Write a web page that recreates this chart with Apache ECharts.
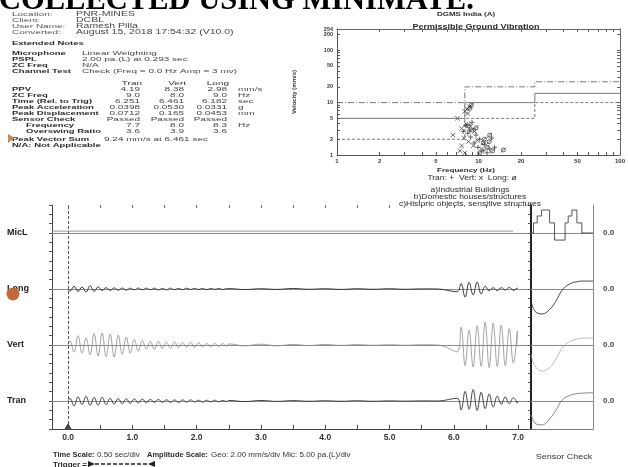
<!DOCTYPE html>
<html><head><meta charset="utf-8">
<script src="https://cdn.jsdelivr.net/npm/echarts@6/dist/echarts.min.js"></script>
<style>html,body{margin:0;padding:0;background:#fff}#c{width:628px;height:467px}</style>
</head><body><div id="c"></div>
<script>
// ================= DATA =================
// --- report header text ---
const titleText = 'COLLECTED USING MINIMATE.';
const infoLabels = ['Location:', 'Client:', 'User Name:', 'Converted:'];
const infoValues = ['PNR-MINES', 'DCBL', 'Ramesh Pilla', 'August 15, 2018 17:54:32 (V10.0)'];
const notesLabels = ['Microphone', 'PSPL', 'ZC Freq', 'Channel Test'];
const notesValues = ['Linear Weighting', '2.00 pa.(L) at 0.293 sec', 'N/A', 'Check (Freq = 0.0 Hz Amp = 3 mv)'];
const tableHeads = ['Tran', 'Vert', 'Long'];
const tableRows = ['PPV', 'ZC Freq', 'Time (Rel. to Trig)', 'Peak Acceleration', 'Peak Displacement', 'Sensor Check', 'Frequency', 'Overswing Ratio'];
const tranCol = ['4.19', '9.0', '6.251', '0.0398', '0.0712', 'Passed', '7.7', '3.6'];
const vertCol = ['8.38', '8.0', '6.461', '0.0530', '0.165', 'Passed', '8.0', '3.9'];
const longCol = ['2.98', '9.0', '6.182', '0.0331', '0.0453', 'Passed', '8.3', '3.6'];
const unitCol = ['mm/s', 'Hz', 'sec', 'g', 'mm', '', 'Hz', ''];

// --- frequency plot (log-log) ---
const freqTicks = [1, 2, 5, 10, 20, 50, 100];
const freqTickMarks = [1, 2, 3, 4, 5, 6, 7, 8, 9, 10, 20, 30, 40, 50, 60, 70, 80, 90, 100];
const velTicks = [1, 2, 5, 10, 20, 50, 100, 200];
const velTopTick = [254];
const velTickMarks = [1, 2, 3, 4, 5, 6, 7, 8, 9, 10, 20, 30, 40, 50, 60, 70, 80, 90, 100, 200, 254];
// limit lines [frequency Hz, velocity mm/s]
const industrialLimit = [[1, 10], [8, 10], [8, 20], [25, 20], [25, 25], [100, 25]];
const domesticLimit = [[1, 5], [8, 5], [8, 10], [25, 10], [25, 15], [100, 15]];
const historicLimit = [[1, 2], [8, 2], [8, 5], [25, 5], [25, 10], [100, 10]];
// scatter points [frequency Hz, velocity mm/s]
const tranPoints = [[9.0, 4.19], [8.1, 3.7], [8.6, 3.0], [9.6, 2.4], [10.2, 2.0], [8.8, 2.2], [11.0, 1.6], [12.0, 1.3], [10.8, 1.2], [9.3, 1.7], [8.4, 2.6], [11.5, 1.1], [13.0, 1.4], [12.4, 2.1], [7.8, 2.8], [9.9, 1.4]];
const vertPoints = [[8.6, 8.38], [8.3, 7.6], [8.0, 6.8], [8.4, 6.2], [7.1, 5.0], [6.6, 2.4], [7.6, 3.2], [8.2, 3.9], [8.8, 3.5], [9.4, 2.8], [7.9, 2.1], [8.5, 1.8], [9.2, 1.5], [7.4, 1.2], [8.0, 1.1], [10.5, 1.3], [9.8, 1.9], [7.6, 1.5]];
const longPoints = [[9.0, 2.98], [8.7, 7.8], [8.9, 8.9], [12.0, 2.4], [11.0, 2.0], [11.5, 1.4], [10.2, 1.1], [15.0, 1.25], [9.6, 3.3], [10.8, 1.7], [12.6, 1.2], [8.5, 3.6], [11.9, 1.8]];

// --- waveform record ---
const channels = ['MicL', 'Long', 'Vert', 'Tran'];
const timeTicks = [0, 1, 2, 3, 4, 5, 6, 7];
const timeTickMarks = [0, 0.5, 1, 1.5, 2, 2.5, 3, 3.5, 4, 4.5, 5, 5.5, 6, 6.5, 7];
const timeMin = -0.25, timeMax = 7.2;
const triggerTime = 0;
const traceStart = 0, traceEnd = 6.98;
const peakStep = 0.0625;          // readings taken at each half-cycle peak (s)
const earlyStart = 0.03, quietStart = 2.5, quietStep = 0.25, burstStart = 6.05;
const geoRange = 10.2;            // mm/s half-height of a channel lane
const micRange = 15;              // pa half-height of the mic lane
const micTimes = [-0.25, 6.92];
const micLevel = [1.0, 1.0];

const longEarly = [-0.8, 1.0, -0.9, 0.7, -1.1, 1.2, -0.9, 0.8, -0.6, 0.5, -0.5, 0.4, -0.4, 0.35, -0.4, 0.3, -0.3, 0.35, -0.3, 0.3, -0.25, 0.3, -0.3, 0.25, -0.3, 0.3, -0.25, 0.2, -0.25, 0.3, -0.2, 0.25, -0.2, 0.2, -0.25, 0.2, -0.15, 0.2, -0.2, 0.15];
const longQuiet = [0.15, -0.2, 0.1, -0.15, 0.2, -0.1, 0.1, -0.15, 0.1, -0.1, 0.1, -0.1, 0.05, 0];
const longBurst = [-1.0, 2.0, -2.98, 2.4, -2.2, 2.6, -1.8, 1.0, -0.6, 0.5, -0.6, 0.5, -0.4, 0.6, -0.5, 0.4];

const vertEarly = [1.5, -2.6, 3.4, -3.0, 2.6, -3.6, 4.2, -4.0, 4.4, -4.3, 4.0, -4.4, 3.6, -3.4, 2.8, -3.0, 2.0, -2.2, 1.7, -1.5, 1.3, -1.6, 1.4, -1.2, 1.0, -1.3, 1.2, -1.0, 0.9, -0.8, 1.0, -0.9, 0.8, -0.7, 0.6, -0.7, 0.6, -0.5, 0.5, -0.4];
const vertQuiet = [0.4, -0.3, 0.3, -0.3, 0.2, -0.2, 0.2, -0.15, 0.15, -0.1, 0.1, -0.1, 0.1, 0];
const vertBurst = [-2.5, 6.5, -7.5, 5.5, -8.0, 7.0, -7.8, 8.38, -8.2, 8.0, -7.8, 7.2, -7.5, 6.0, -6.5, 5.0];

const tranEarly = [1.0, -1.8, 1.5, -1.3, 1.7, -1.6, 1.3, -1.5, 1.4, -1.3, 1.0, -1.1, 0.9, -1.0, 0.8, -0.9, 0.8, -0.7, 0.7, -0.6, 0.6, -0.5, 0.6, -0.5, 0.5, -0.5, 0.4, -0.5, 0.4, -0.4, 0.4, -0.3, 0.3, -0.4, 0.3, -0.3, 0.3, -0.3, 0.2, -0.2];
const tranQuiet = [0.2, -0.2, 0.2, -0.15, 0.15, -0.1, 0.1, -0.1, 0.1, -0.1, 0.05, -0.05, 0.05, 0];
const tranBurst = [1.0, -3.3, 3.5, -3.0, 4.19, -3.5, 3.2, -2.8, 2.6, -2.2, 1.8, -1.2, 1.5, -1.0, 1.2, -0.8];

// --- sensor check responses (fraction of panel width, value) ---
const sensorTimes = [0.005, 0.06, 0.18, 0.3, 0.4, 0.5, 0.62, 0.75, 0.85, 1.0];
const longSensor = [-4.5, -8.0, -9.1, -7.5, -4.5, -0.5, 1.8, 2.7, 2.9, 2.9];
const vertSensor = [-3.5, -7.5, -9.5, -8.2, -5.2, -1.2, 1.2, 2.2, 2.5, 2.5];
const tranSensor = [-5.0, -8.0, -8.7, -6.5, -3.5, 0.3, 2.0, 2.7, 2.9, 3.0];
const micSensorTimes = [0, 0.04, 0.1, 0.17, 0.3, 0.38, 0.55, 0.6, 0.66, 0.74, 0.82, 1.0];
const micSensor = [0, 5.4, 9.1, 12.3, 5.4, -3.8, 5.4, 9.1, 12.3, 5.4, 0, 0];

// ================= BUILD =================
const F = '"Liberation Sans", Arial, sans-serif';
const off = { show: false };
function seq(start, step, vals) { return vals.map((v, i) => [+(start + i * step).toFixed(4), v]); }
function pairs(xs, ys) { return xs.map((x, i) => [x, ys[i]]); }
function trace(early, quiet, burst) {
  return [[traceStart, 0]].concat(seq(earlyStart, peakStep, early), seq(quietStart, quietStep, quiet), seq(burstStart, peakStep, burst), [[traceEnd, 0]]);
}

const laneTop = 205, laneH = 56, plotL = 52, plotR = 531, panelR = 593;
const grids = [
  { left: 337, top: 29, width: 285, height: 126 },
  { left: plotL, top: laneTop, width: plotR - plotL, height: laneH * 4 }
];
for (let i = 0; i < 4; i++) grids.push({ left: plotL, top: laneTop + laneH * i, width: plotR - plotL, height: laneH });
for (let i = 0; i < 4; i++) grids.push({ left: plotR, top: laneTop + laneH * i, width: panelR - plotR, height: laneH });
grids.push({ left: plotR, top: laneTop, width: panelR - plotR, height: laneH * 4 });

const velLabelStyle = { fontSize: 5.5, fontWeight: 'bold', color: '#333', margin: 4, fontFamily: F, hideOverlap: false, showMaxLabel: true, showMinLabel: true };

const xAxes = [
  { gridIndex: 0, type: 'log', min: 1, max: 100, axisLine: { onZero: false, lineStyle: { color: '#555' } },
    axisTick: { inside: true, length: 3, customValues: freqTickMarks, lineStyle: { color: '#555' } },
    axisLabel: { customValues: freqTicks, fontSize: 6, fontWeight: 'bold', color: '#333', margin: 3, fontFamily: F, hideOverlap: false }, splitLine: off },
  { gridIndex: 0, type: 'log', position: 'top', min: 1, max: 100, axisLine: { onZero: false, lineStyle: { color: '#666' } },
    axisTick: { inside: true, length: 3, customValues: freqTickMarks, lineStyle: { color: '#666' } }, axisLabel: off, splitLine: off },
  { gridIndex: 1, type: 'value', min: timeMin, max: timeMax, axisLine: { onZero: false, lineStyle: { color: '#444' } },
    axisTick: { inside: true, length: 4, customValues: timeTickMarks, lineStyle: { color: '#444' } },
    axisLabel: { customValues: timeTicks, formatter: v => v.toFixed(1), fontSize: 8.5, fontWeight: 'bold', color: '#333', margin: 4, fontFamily: F }, splitLine: off },
  { gridIndex: 1, type: 'value', position: 'top', min: timeMin, max: timeMax, axisLine: { show: false, onZero: false },
    axisTick: { inside: true, length: 3, customValues: timeTickMarks, lineStyle: { color: '#666' } }, axisLabel: off, splitLine: off }
];
for (let i = 0; i < 4; i++) xAxes.push({ gridIndex: 2 + i, type: 'value', min: timeMin, max: timeMax,
  axisLine: { onZero: true, lineStyle: { color: '#8a8a8a', width: 1 } }, axisTick: off, axisLabel: off, splitLine: off });
for (let i = 0; i < 4; i++) xAxes.push({ gridIndex: 6 + i, type: 'value', min: 0, max: 1,
  axisLine: { onZero: true, lineStyle: { color: '#8a8a8a', width: 1 } }, axisTick: off, axisLabel: off, splitLine: off });
xAxes.push({ gridIndex: 10, type: 'value', min: 0, max: 1, axisLine: { onZero: false, lineStyle: { color: '#777' } }, axisTick: off, axisLabel: off, splitLine: off });

const yAxes = [
  { gridIndex: 0, type: 'log', min: 1, max: 254, axisLine: { onZero: false, lineStyle: { color: '#555' } },
    axisTick: { inside: true, length: 3, customValues: velTickMarks, lineStyle: { color: '#555' } },
    axisLabel: Object.assign({ customValues: velTicks }, velLabelStyle),
    name: 'Velocity (mm/s)', nameLocation: 'middle', nameGap: 40, nameRotate: 90,
    nameTextStyle: { fontSize: 6, fontWeight: 'bold', color: '#333', fontFamily: F }, splitLine: off },
  { gridIndex: 0, type: 'log', position: 'right', min: 1, max: 254, axisLine: { onZero: false, lineStyle: { color: '#666' } },
    axisTick: { inside: true, length: 3, customValues: velTickMarks, lineStyle: { color: '#666' } }, axisLabel: off, splitLine: off },
  { gridIndex: 1, type: 'value', min: -3, max: 21, interval: 1, axisLine: { onZero: false, lineStyle: { color: '#444' } },
    axisTick: { length: 3, lineStyle: { color: '#555' } }, axisLabel: off, splitLine: off },
  { gridIndex: 1, type: 'value', position: 'right', min: -3, max: 21, interval: 1, axisLine: { onZero: false, lineStyle: { color: '#222', width: 2 } },
    axisTick: { inside: true, length: 3, lineStyle: { color: '#555' } }, axisLabel: off, splitLine: off }
];
for (let i = 0; i < 4; i++) {
  const r = i === 0 ? micRange : geoRange;
  yAxes.push({ gridIndex: 2 + i, type: 'value', min: -r, max: r, axisLine: { show: false, onZero: false }, axisTick: off,
    axisLabel: { customValues: [0], formatter: () => channels[i], align: 'left', margin: 45, fontSize: 9, fontWeight: 'bold', color: '#222', fontFamily: F },
    splitLine: off });
}
for (let i = 0; i < 4; i++) {
  const r = i === 0 ? micRange : geoRange;
  yAxes.push({ gridIndex: 6 + i, type: 'value', position: 'right', min: -r, max: r, axisLine: { show: false, onZero: false }, axisTick: off,
    axisLabel: { customValues: [0], formatter: () => '0.0', margin: 10, fontSize: 8, fontWeight: 'bold', color: '#444', fontFamily: F },
    splitLine: off });
}
yAxes.push({ gridIndex: 10, type: 'value', position: 'right', min: 0, max: 1, axisLine: { onZero: false, lineStyle: { color: '#888' } }, axisTick: off, axisLabel: off, splitLine: off });
// separate label-only axis for the 254 top value (sits too close to 200 for one axis)
yAxes.push({ gridIndex: 0, type: 'log', position: 'left', min: 1, max: 254, axisLine: { show: false, onZero: false }, axisTick: off,
  axisLabel: Object.assign({ customValues: velTopTick }, velLabelStyle), splitLine: off });

const markStyle = { color: 'transparent', borderColor: '#333', borderWidth: 0.9 };
const series = [
  { type: 'line', xAxisIndex: 0, yAxisIndex: 0, data: industrialLimit, symbol: 'none', lineStyle: { color: '#555', width: 0.8, type: [6, 2, 1, 2] } },
  { type: 'line', xAxisIndex: 0, yAxisIndex: 0, data: domesticLimit, symbol: 'none', lineStyle: { color: '#555', width: 0.8 } },
  { type: 'line', xAxisIndex: 0, yAxisIndex: 0, data: historicLimit, symbol: 'none', lineStyle: { color: '#555', width: 0.8, type: [3, 2] } },
  { type: 'scatter', xAxisIndex: 0, yAxisIndex: 0, data: tranPoints, symbol: 'path://M0,5L10,5M5,0L5,10', symbolSize: 5, itemStyle: markStyle },
  { type: 'scatter', xAxisIndex: 0, yAxisIndex: 0, data: vertPoints, symbol: 'path://M0,0L10,10M10,0L0,10', symbolSize: 4.5, itemStyle: markStyle },
  { type: 'scatter', xAxisIndex: 0, yAxisIndex: 0, data: longPoints, symbol: 'path://M5,1A4,4,0,1,1,4.99,1ZM0,10L10,0', symbolSize: 5, itemStyle: markStyle },
  { type: 'scatter', xAxisIndex: 2, yAxisIndex: 2, data: [[triggerTime, -3]], symbol: 'triangle', symbolSize: [7, 6], symbolOffset: [0, -3],
    itemStyle: { color: '#111' }, silent: true,
    markLine: { silent: true, symbol: 'none', label: off, lineStyle: { type: [3, 2], color: '#555', width: 1 }, data: [{ xAxis: triggerTime }] } },
  { type: 'line', xAxisIndex: 4, yAxisIndex: 4, data: pairs(micTimes, micLevel), symbol: 'none', lineStyle: { color: '#999', width: 1 } },
  { type: 'line', xAxisIndex: 5, yAxisIndex: 5, data: trace(longEarly, longQuiet, longBurst), symbol: 'none', smooth: 0.4, lineStyle: { color: '#2a2a2a', width: 0.9 } },
  { type: 'line', xAxisIndex: 6, yAxisIndex: 6, data: trace(vertEarly, vertQuiet, vertBurst), symbol: 'none', smooth: 0.4, lineStyle: { color: '#8c8c8c', width: 0.8 } },
  { type: 'line', xAxisIndex: 7, yAxisIndex: 7, data: trace(tranEarly, tranQuiet, tranBurst), symbol: 'none', smooth: 0.4, lineStyle: { color: '#333', width: 0.9 } },
  { type: 'line', xAxisIndex: 8, yAxisIndex: 8, data: pairs(micSensorTimes, micSensor), symbol: 'none', step: 'end', lineStyle: { color: '#444', width: 0.9 } },
  { type: 'line', xAxisIndex: 9, yAxisIndex: 9, data: pairs(sensorTimes, longSensor), symbol: 'none', smooth: 0.4, lineStyle: { color: '#333', width: 0.9 } },
  { type: 'line', xAxisIndex: 10, yAxisIndex: 10, data: pairs(sensorTimes, vertSensor), symbol: 'none', smooth: 0.4, lineStyle: { color: '#aaa', width: 0.8 } },
  { type: 'line', xAxisIndex: 11, yAxisIndex: 11, data: pairs(sensorTimes, tranSensor), symbol: 'none', smooth: 0.4, lineStyle: { color: '#777', width: 0.9 } }
];

// ---- text blocks ----
function txt(x, y, s, o) {
  o = o || {};
  const a = o.a || 'left';
  return { type: 'text', x: x, y: y, scaleY: o.sy || 0.62, silent: true, z: 10,
    style: { text: s, font: (o.w || 'normal') + ' ' + (o.fs || 9.5) + 'px ' + F, fill: o.c || '#2b2b2b',
      textAlign: a, align: a, textVerticalAlign: 'middle', verticalAlign: 'middle' } };
}
const G = [];
G.push({ type: 'text', x: -1, y: 1, silent: true, style: { text: titleText, font: 'bold 30.5px "Liberation Serif", "Times New Roman", serif', fill: '#000', textAlign: 'left', align: 'left', textVerticalAlign: 'middle', verticalAlign: 'middle' } });
const infoY = [14, 20, 26, 32];
infoLabels.forEach((s, i) => { G.push(txt(12, infoY[i], s, { c: '#555', fs: 10 })); G.push(txt(76, infoY[i], infoValues[i], { c: '#444', fs: 10.5 })); });
G.push(txt(12, 43, 'Extended Notes', { w: 'bold' }));
const notesY = [53, 59, 65, 71];
notesLabels.forEach((s, i) => { G.push(txt(12, notesY[i], s, { w: 'bold' })); G.push(txt(82, notesY[i], notesValues[i], { c: '#444', fs: 10 })); });
const colX = [140, 184, 227];
tableHeads.forEach((s, i) => G.push(txt(colX[i] + 2, 83, s, { a: 'right', c: '#333', fs: 10 })));
const rowY = [89, 95, 101, 107, 113, 119, 125, 131];
tableRows.forEach((s, i) => {
  G.push(txt(i >= 6 ? 26 : 12, rowY[i], s, { w: 'bold' }));
  G.push(txt(colX[0], rowY[i], tranCol[i], { a: 'right', c: '#444', fs: 10 }));
  G.push(txt(colX[1], rowY[i], vertCol[i], { a: 'right', c: '#444', fs: 10 }));
  G.push(txt(colX[2], rowY[i], longCol[i], { a: 'right', c: '#444', fs: 10 }));
  if (unitCol[i]) G.push(txt(238, rowY[i], unitCol[i], { c: '#444', fs: 10 }));
});
G.push(txt(12, 139, 'Peak Vector Sum', { w: 'bold' }));
G.push(txt(104, 139, '9.24 mm/s at 6.461 sec', { c: '#444', fs: 10 }));
G.push(txt(12, 145, 'N/A: Not Applicable', { w: 'bold' }));

// frequency plot captions
G.push(txt(466, 14, 'DGMS India (A)', { a: 'center', w: 'bold', fs: 8, sy: 0.75 }));
G.push(txt(476, 27, 'Permissible Ground Vibration', { a: 'center', w: 'bold', fs: 9, sy: 0.7 }));
G.push(txt(466, 170, 'Frequency (Hz)', { a: 'center', w: 'bold', fs: 8, sy: 0.75 }));
G.push(txt(472, 178, 'Tran: +  Vert: x  Long: \u00f8', { a: 'center', fs: 8.5, sy: 0.8 }));
G.push(txt(470, 190, 'a)Industrial Buildings', { a: 'center', fs: 8.5, sy: 0.75 }));
G.push(txt(470, 197, 'b)Domestic houses/structures', { a: 'center', fs: 8.5, sy: 0.75 }));
G.push(txt(470, 204, 'c)Historic objects, sensitive structures', { a: 'center', fs: 8.5, sy: 0.75 }));

// bottom captions
G.push(txt(53, 455, 'Time Scale:', { w: 'bold', fs: 7.5, sy: 0.85 }));
G.push(txt(97, 455, '0.50 sec/div', { fs: 8, sy: 0.85, c: '#333' }));
G.push(txt(147, 455, 'Amplitude Scale:', { w: 'bold', fs: 7.5, sy: 0.85 }));
G.push(txt(211, 455, 'Geo: 2.00 mm/s/div Mic: 5.00 pa.(L)/div', { fs: 8, sy: 0.85, c: '#333' }));
G.push(txt(564, 457, 'Sensor Check', { a: 'center', fs: 9, sy: 0.8, c: '#333' }));
G.push(txt(53, 465, 'Trigger = ', { w: 'bold', fs: 8, sy: 0.85 }));
G.push({ type: 'polygon', silent: true, shape: { points: [[88, 461], [95, 464], [88, 467]] }, style: { fill: '#222' } });
G.push({ type: 'line', silent: true, shape: { x1: 95, y1: 464, x2: 148, y2: 464 }, style: { stroke: '#222', lineWidth: 1.5, lineDash: [4, 2] } });
G.push({ type: 'polygon', silent: true, shape: { points: [[155, 461], [148, 464], [155, 467]] }, style: { fill: '#222' } });
// scan artefacts (orange marks)
G.push({ type: 'circle', silent: true, z: 20, shape: { cx: 13, cy: 294, r: 6.5 }, style: { fill: '#c2693a' } });
G.push({ type: 'polygon', silent: true, z: 20, shape: { points: [[8, 134], [15, 138], [8, 143]] }, style: { fill: '#c98a5a' } });

const chart = echarts.init(document.getElementById('c'), null, { renderer: 'canvas' });
chart.setOption({
  animation: false,
  backgroundColor: '#fff',
  textStyle: { fontFamily: F },
  grid: grids,
  xAxis: xAxes,
  yAxis: yAxes,
  series: series,
  graphic: { elements: G }
});
</script></body></html>
